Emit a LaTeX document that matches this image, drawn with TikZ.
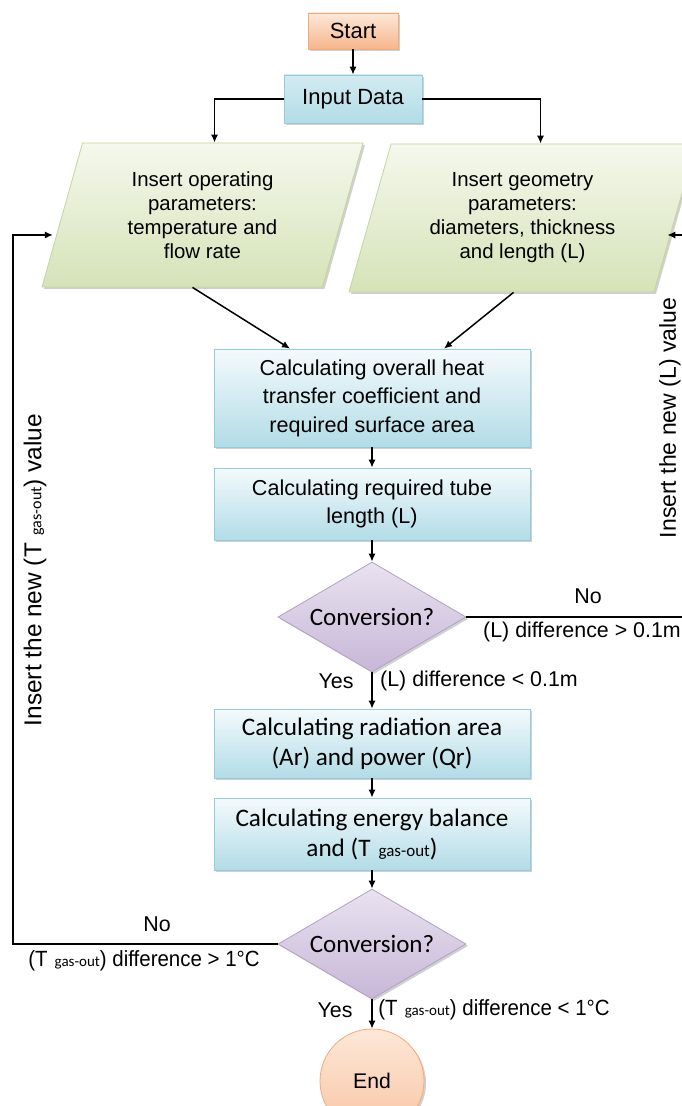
\documentclass[tikz,border=0pt]{standalone}
\usepackage{fontspec}
\setmainfont{Liberation Sans}
\newfontfamily\calibri{Carlito}
\newfontfamily\narrowfont[FakeStretch=0.93]{Liberation Sans}
\usetikzlibrary{arrows.meta, positioning, shapes.geometric, calc, shadows}

\definecolor{startTop}{HTML}{FDE8D8}
\definecolor{startBot}{HTML}{F6B68C}
\definecolor{startLine}{HTML}{F4A97C}
\definecolor{blueTop}{HTML}{F4FAFC}
\definecolor{blueBot}{HTML}{B2DCE7}
\definecolor{blueLine}{HTML}{93CDDD}
\definecolor{greenTop}{HTML}{F5F8EC}
\definecolor{greenBot}{HTML}{D5E3B8}
\definecolor{greenLine}{HTML}{C3D69B}
\definecolor{violetTop}{HTML}{E9E2EF}
\definecolor{violetBot}{HTML}{C7B7D8}
\definecolor{violetLine}{HTML}{B2A1C7}

\newcommand{\Tgas}[1]{T\,{\calibri#1 gas-out}}

\begin{document}
\begin{tikzpicture}[x=0.5pt, y=-0.5pt,
    arr/.style={-{Latex[length=4pt,width=3.6pt]}, line width=0.75pt},
    line/.style={line width=0.75pt},
    shade/.style={drop shadow={shadow xshift=1pt, shadow yshift=-1pt, opacity=0.3, fill=black!60}},
    startbox/.style={draw=startLine, top color=startTop, bottom color=startBot, shade, minimum width=45pt, minimum height=18pt, inner sep=0pt, font=\fontsize{11}{13}\selectfont},
    calcbox/.style={draw=blueLine, top color=blueTop, bottom color=blueBot, shade, minimum width=158pt, inner sep=0pt, align=center},
    iobox/.style={trapezium, trapezium left angle=65, trapezium right angle=115, trapezium stretches body, draw=greenLine, top color=greenTop, bottom color=greenBot, shade, inner sep=0pt, align=center, font=\fontsize{10.2}{12}\selectfont},
    decision/.style={diamond, aspect=1.7, draw=violetLine, top color=violetTop, bottom color=violetBot, shade, minimum width=94pt, minimum height=55pt, inner sep=0pt, font=\calibri\fontsize{12.5}{14}\selectfont},
    lbl/.style={inner sep=0pt, font=\fontsize{10.7}{13}\selectfont}
  ]
  \fill[white] (0,0) rectangle (681,1106);
  \useasboundingbox (0,0) rectangle (681,1106);

  % Start and input
  \node[startbox] (start) at (353,31) {Start};
  \node[calcbox, draw=blueLine, top color=blueTop!50!blueBot, minimum width=69pt, minimum height=24pt, font=\fontsize{11}{13}\selectfont] (input) at (353,99) {Input Data};

  % Parameter inputs
  \node[iobox, minimum width=160.5pt, minimum height=72pt] (operpar) at (202.5,215)
    {Insert operating\\parameters:\\temperature and\\flow rate};
  \node[iobox, minimum width=173.5pt, minimum height=74pt] (geompar) at (522.5,218)
    {Insert geometry\\parameters:\\diameters, thickness\\and length (L)};

  % Calculation chain
  \node[calcbox, minimum height=49pt, font=\fontsize{10.8}{14.25}\selectfont] (heatcoef) at (372,398)
    {Calculating overall heat\\transfer coefficient and\\required surface area};
  \node[calcbox, minimum height=36pt, font=\fontsize{10.8}{14.25}\selectfont] (tubelen) at (372,504)
    {Calculating required tube\\length (L)};
  \node[decision] (convlen) at (372,617) {Conversion?};
  \node[calcbox, minimum height=34.5pt, font=\calibri\fontsize{12.6}{15}\selectfont] (radarea) at (372,743.5)
    {Calculating radiation area\\(Ar) and power (Qr)};
  \node[calcbox, minimum height=36pt, font=\calibri\fontsize{12.6}{15}\selectfont] (enbal) at (372,834)
    {Calculating energy balance\\and (\Tgas{\fontsize{8.5}{9}\selectfont})};
  \node[decision] (convtemp) at (372,944) {Conversion?};
  \node[circle, draw=startLine, top color=startTop, bottom color=startBot!80, shade, minimum size=52pt, inner sep=0pt, font=\fontsize{10.6}{12}\selectfont] (finish) at (372,1081) {End};

  % Feedback corners
  \coordinate (fbL) at (13,944);
  \coordinate (fbR) at (688,617);

  % Connectors
  \draw[arr] (start) -- (input);
  \draw[arr] (input.west) -| ($(operpar.north)+(12,0)$);
  \draw[arr] (input.east) -| ($(geompar.north)+(18,0)$);
  \draw[arr] ($(operpar.south)+(-10,0)$) -- ($(heatcoef.north)+(-82,0)$);
  \draw[arr] ($(geompar.south)+(-9,0)$) -- ($(heatcoef.north)+(72,0)$);
  \draw[arr] (heatcoef) -- (tubelen);
  \draw[arr] (tubelen) -- (convlen);
  \draw[arr] (convlen) -- (radarea);
  \draw[arr] (radarea) -- (enbal);
  \draw[arr] (enbal) -- (convtemp);
  \draw[arr] (convtemp) -- (finish);
  \draw[arr] (convlen.east) -- (fbR) |- ($(geompar.east)+(-8,17)$);
  \draw[arr] (convtemp.west) -- (fbL) |- ($(operpar.west)+(-9,20)$);

  % Labels
  \node[lbl] (noL) at (588,596) {No};
  \node[lbl] (diffgtL) at (582,632) {(L) difference > 0.1m};
  \node[lbl] (yesL) at (336,681) {Yes};
  \node[lbl] (diffltL) at (479,681) {(L) difference < 0.1m};
  \node[lbl, rotate=90, font=\fontsize{11.5}{13}\selectfont] (newL) at (670,418) {Insert the new (L) value};
  \node[lbl] (noT) at (157,924) {No};
  \node[lbl, font=\narrowfont\fontsize{11}{13}\selectfont] (diffgtT) at (144,961) {(\Tgas{\fontsize{7.5}{9}\selectfont}) difference > 1°C};
  \node[lbl] (yesT) at (335,1010) {Yes};
  \node[lbl, font=\narrowfont\fontsize{11}{13}\selectfont] (diffltT) at (494,1010) {(\Tgas{\fontsize{7.5}{9}\selectfont}) difference < 1°C};
  \node[lbl, rotate=90, font=\fontsize{12.2}{14}\selectfont] (newT) at (35,570) {Insert the new (\Tgas{\fontsize{8}{9}\selectfont}) value};
\end{tikzpicture}
\end{document}
